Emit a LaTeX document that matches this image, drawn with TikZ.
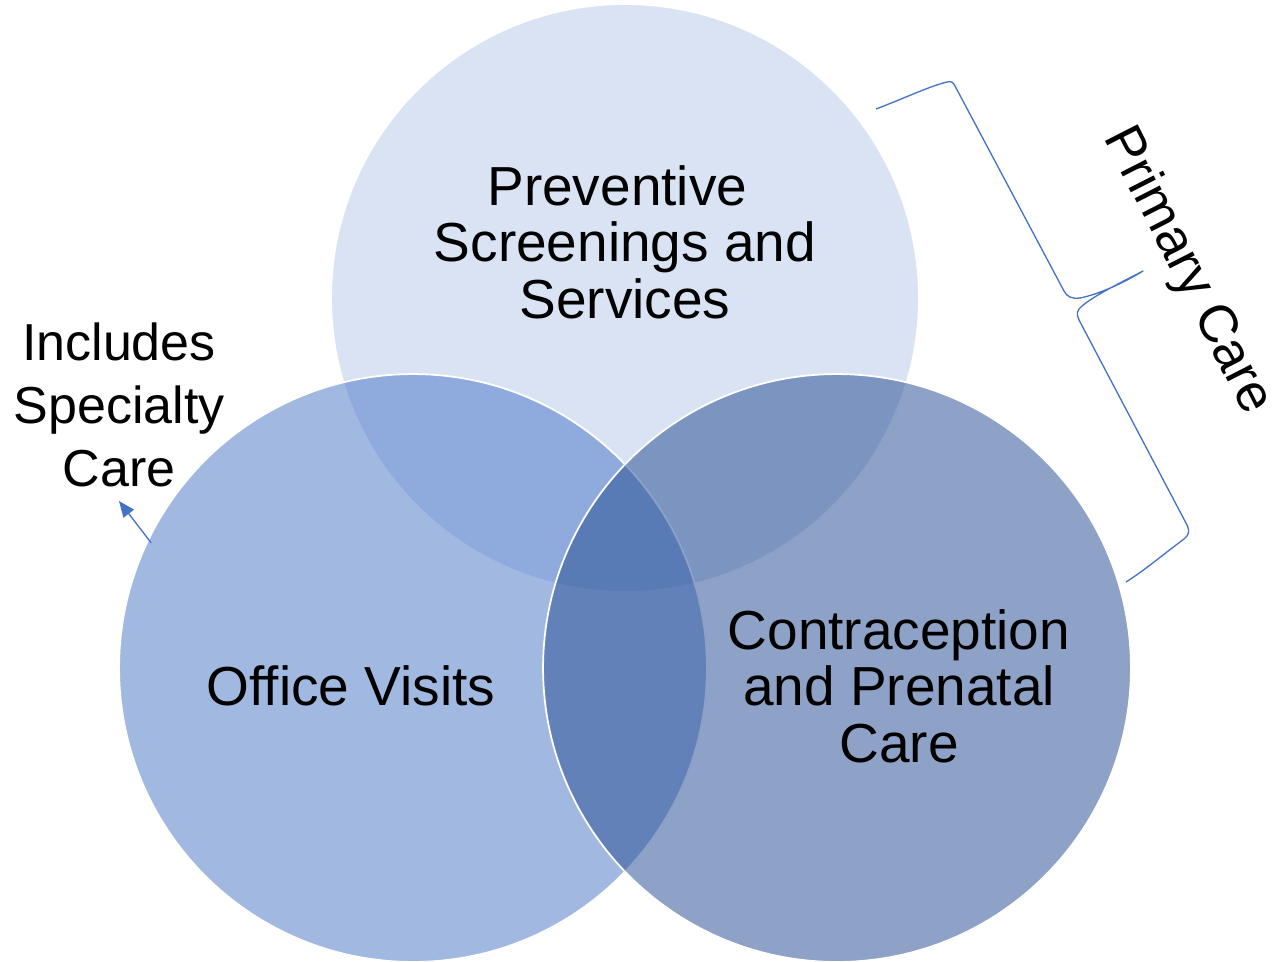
\documentclass[tikz,border=0pt]{standalone}
\usepackage{fontspec}
\setmainfont{Liberation Sans}
\usetikzlibrary{arrows.meta}
\definecolor{accent}{HTML}{4472C4}
\definecolor{deepaccent}{HTML}{2F5597}

\begin{document}
\begin{tikzpicture}[x=0.02cm,y=-0.02cm,
  venn/.style={circle,minimum size=11.76cm,inner sep=0pt,draw=white,line width=1pt},
  big/.style={align=center,font=\fontsize{31.3}{32.2}\selectfont},
  side/.style={align=center,font=\fontsize{29.6}{36}\selectfont},
  bracepen/.style={draw=accent,line width=0.75pt,line join=round},
  pointer/.style={draw=accent,line width=0.75pt,-{Triangle[length=0.32cm,width=0.26cm]}}]
\useasboundingbox (0,0) rectangle (1273,961);
\node[venn,fill=accent,fill opacity=0.2] (p) at (625,298) {};
\node[venn,fill=accent,fill opacity=0.5] (o) at (413,668) {};
\node[venn,fill=deepaccent,fill opacity=0.55] (c) at (837,668) {};
\node[big] (pt) at (625,242) {Preventive\kern0.28em\\Screenings and\\Services};
\node[big] (ot) at (351,686) {Office Visits};
\node[big] (ct) at (899,686) {Contraception\\and Prenatal\\Care};
\node[side,inner sep=0pt,outer sep=0.28cm,anchor=south] (s) at (119,501) {Includes\\Specialty\\Care};
\node[side,inner sep=0pt,rotate=-63] (pc) at (1187,271) {\fontsize{30.3}{36}\selectfont Primary Care};
\draw[pointer,shorten <=-0.1cm] (o.154) -- (s.south);
\draw[bracepen] (876,109) .. controls (905,98) and (930,86) .. (947,82)
  .. controls (951,81) and (953,82) .. (955,86)
  -- (1064,291)
  .. controls (1067,297) and (1072,299) .. (1080,298)
  .. controls (1100,294) and (1125,282) .. (1143,271)
  .. controls (1120,283) and (1095,295) .. (1082,306)
  .. controls (1077,310) and (1076,314) .. (1079,320)
  -- (1187,525)
  .. controls (1190,531) and (1189,535) .. (1184,539)
  .. controls (1165,553) and (1145,570) .. (1126,582);
\end{tikzpicture}
\end{document}
